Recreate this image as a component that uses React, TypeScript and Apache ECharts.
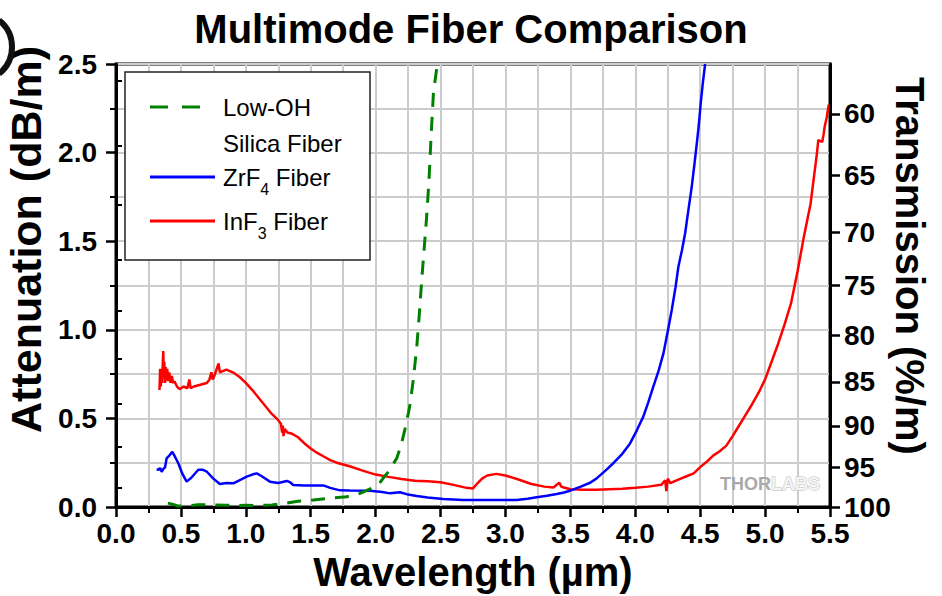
import React, { useEffect, useRef } from "react";
import * as echarts from "echarts";

const FONT = "'Liberation Sans', Arial, Helvetica, sans-serif";

// Axes
const wavelengthMin = 0;
const wavelengthMax = 5.5;
const attenuationMin = 0;
const attenuationMax = 2.5;
const transmissionMajorTicks = [60, 65, 70, 75, 80, 85, 90, 95, 100];
const transmissionMinorTicks = [57.5, 62.5, 67.5, 72.5, 77.5, 82.5, 87.5, 92.5, 97.5];

const titleText = "Multimode Fiber Comparison";
const seriesNames = ["InF3 Fiber", "ZrF4 Fiber", "Low-OH Silica Fiber"];

// [wavelength (µm), attenuation (dB/m)]
const inf3Data: number[][] = [
  [0.335, 0.66], [0.34, 0.78], [0.345, 0.68], [0.35, 0.74], [0.355, 0.7], [0.36, 0.8],
  [0.364, 0.88], [0.368, 0.74], [0.372, 0.82], [0.378, 0.7], [0.383, 0.79], [0.39, 0.72],
  [0.395, 0.78], [0.4, 0.71], [0.41, 0.76], [0.42, 0.7], [0.43, 0.74], [0.44, 0.7],
  [0.45, 0.71], [0.47, 0.68], [0.49, 0.665], [0.52, 0.68], [0.55, 0.67], [0.565, 0.72],
  [0.575, 0.67], [0.6, 0.68], [0.65, 0.69], [0.7, 0.7], [0.72, 0.72], [0.735, 0.76],
  [0.745, 0.72], [0.76, 0.745], [0.79, 0.81], [0.8, 0.76], [0.85, 0.775], [0.9, 0.76],
  [0.95, 0.735], [1.0, 0.7], [1.05, 0.66], [1.1, 0.615], [1.15, 0.57], [1.2, 0.525],
  [1.25, 0.49], [1.27, 0.47], [1.28, 0.42], [1.285, 0.46], [1.29, 0.4], [1.3, 0.44],
  [1.32, 0.42], [1.35, 0.415], [1.4, 0.395], [1.45, 0.36], [1.5, 0.33], [1.55, 0.305],
  [1.6, 0.285], [1.65, 0.265], [1.7, 0.25], [1.8, 0.23], [1.9, 0.205], [2.0, 0.183],
  [2.1, 0.17], [2.2, 0.158], [2.3, 0.148], [2.4, 0.145], [2.5, 0.14], [2.6, 0.125],
  [2.7, 0.108], [2.75, 0.105], [2.78, 0.13], [2.82, 0.16], [2.86, 0.178], [2.93, 0.187],
  [3.0, 0.178], [3.1, 0.155], [3.2, 0.13], [3.3, 0.115], [3.37, 0.11], [3.4, 0.128],
  [3.415, 0.137], [3.43, 0.115], [3.45, 0.11], [3.5, 0.1], [3.6, 0.098], [3.7, 0.097],
  [3.8, 0.1], [3.9, 0.103], [4.0, 0.108], [4.1, 0.115], [4.2, 0.125], [4.23, 0.15],
  [4.24, 0.09], [4.25, 0.16], [4.27, 0.135], [4.3, 0.145], [4.35, 0.16], [4.4, 0.175],
  [4.45, 0.19], [4.5, 0.225], [4.55, 0.255], [4.6, 0.29], [4.65, 0.315], [4.7, 0.345],
  [4.75, 0.4], [4.8, 0.46], [4.85, 0.52], [4.9, 0.58], [4.95, 0.645], [5.0, 0.72],
  [5.05, 0.82], [5.1, 0.92], [5.15, 1.03], [5.2, 1.15], [5.25, 1.33], [5.3, 1.53],
  [5.35, 1.71], [5.4, 2.0], [5.41, 2.07], [5.44, 2.06], [5.45, 2.1], [5.46, 2.15],
  [5.475, 2.2], [5.49, 2.27],
];

const zrf4Data: number[][] = [
  [0.313, 0.213], [0.33, 0.21], [0.34, 0.22], [0.352, 0.199], [0.365, 0.215], [0.378, 0.224],
  [0.39, 0.275], [0.41, 0.29], [0.434, 0.312], [0.45, 0.29], [0.48, 0.247], [0.51, 0.19],
  [0.544, 0.143], [0.58, 0.165], [0.634, 0.21], [0.67, 0.21], [0.7, 0.199], [0.75, 0.16],
  [0.8, 0.13], [0.85, 0.135], [0.904, 0.134], [0.95, 0.15], [1.007, 0.171], [1.05, 0.183],
  [1.084, 0.19], [1.12, 0.175], [1.186, 0.143], [1.25, 0.135], [1.315, 0.147], [1.34, 0.14],
  [1.366, 0.124], [1.45, 0.122], [1.597, 0.122], [1.65, 0.108], [1.726, 0.094], [1.8, 0.093],
  [1.957, 0.092], [2.05, 0.085], [2.111, 0.077], [2.188, 0.083], [2.25, 0.07], [2.317, 0.062],
  [2.4, 0.054], [2.521, 0.045], [2.676, 0.04], [2.8, 0.04], [3.0, 0.04], [3.087, 0.04],
  [3.17, 0.047], [3.24, 0.055], [3.32, 0.063], [3.395, 0.073], [3.45, 0.082], [3.498, 0.092],
  [3.58, 0.115], [3.652, 0.137], [3.7, 0.16], [3.77, 0.205], [3.831, 0.247], [3.9, 0.3],
  [3.96, 0.359], [4.01, 0.43], [4.062, 0.51], [4.1, 0.59], [4.139, 0.679], [4.18, 0.77],
  [4.217, 0.867], [4.25, 0.99], [4.281, 1.112], [4.31, 1.24], [4.332, 1.356], [4.36, 1.45],
  [4.384, 1.545], [4.41, 1.68], [4.435, 1.808], [4.455, 1.93], [4.474, 2.052], [4.49, 2.16],
  [4.504, 2.278], [4.52, 2.39], [4.538, 2.5],
];

const silicaData: number[][] = [
  [0.4, 0.022], [0.44, 0.015], [0.48, 0.005], [0.55, 0.005], [0.62, 0.012], [0.7, 0.013],
  [0.74, 0.012], [0.85, 0.01], [0.95, 0.008], [1.0, 0.01], [1.1, 0.008], [1.2, 0.012],
  [1.3, 0.02], [1.4, 0.032], [1.52, 0.04], [1.65, 0.05], [1.777, 0.058], [1.88, 0.077],
  [1.98, 0.11], [2.03, 0.134], [2.06, 0.165], [2.1, 0.2], [2.137, 0.245], [2.163, 0.275],
  [2.2, 0.36], [2.226, 0.44], [2.252, 0.529], [2.265, 0.58], [2.29, 0.717], [2.317, 0.905],
  [2.337, 1.093], [2.355, 1.281], [2.373, 1.45], [2.393, 1.638], [2.411, 1.845], [2.427, 2.09],
  [2.445, 2.335], [2.475, 2.5],
];

const toAttenuation = (t: number) => Math.max(0, -10 * Math.log10(t / 100));
const toTransmission = (a: number) => 100 * Math.pow(10, -a / 10);

export default function App() {
  const ref = useRef<HTMLDivElement>(null);

  useEffect(() => {
    if (!ref.current) return;
    const chart = echarts.init(ref.current, undefined, { renderer: "svg" });
    const gridColor = "#cccccc";
    const axisCommon = {
      axisLine: { show: true, onZero: false, lineStyle: { color: "#000", width: 3 } },
      axisTick: { show: true, length: 10, lineStyle: { color: "#000", width: 2.5 } },
      minorTick: { show: true, splitNumber: 2, length: 6, lineStyle: { color: "#000", width: 2 } },
      splitLine: { show: true, lineStyle: { color: gridColor, width: 2 } },
      minorSplitLine: { show: true, lineStyle: { color: gridColor, width: 2 } },
    };
    const majorA = transmissionMajorTicks.map(toAttenuation);
    const minorA = transmissionMinorTicks.map(toAttenuation);

    const option: any = {
      animation: false,
      backgroundColor: "#fff",
      textStyle: { fontFamily: FONT },
      title: {
        text: titleText,
        left: "center",
        top: 9,
        padding: 0,
        textStyle: { fontFamily: FONT, fontSize: 40, fontWeight: "bold", color: "#000" },
      },
      grid: {
        left: 116,
        right: 112,
        top: 64,
        bottom: 89,
        show: true,
        borderColor: "#000",
        borderWidth: 3,
        backgroundColor: "transparent",
        containLabel: false,
        outerBoundsMode: "none",
      },
      xAxis: [
        {
          type: "value",
          min: wavelengthMin,
          max: wavelengthMax,
          interval: 0.5,
          position: "bottom",
          ...axisCommon,
          axisLabel: {
            fontFamily: FONT,
            fontSize: 28,
            fontWeight: "bold",
            color: "#000",
            margin: 12,
            formatter: (v: number) => v.toFixed(1),
          },
          name: "Wavelength (µm)",
          nameLocation: "middle",
          nameGap: 42,
          nameTextStyle: { fontFamily: FONT, fontSize: 40, fontWeight: "bold", color: "#000" },
        },
      ],
      yAxis: [
        {
          type: "value",
          min: attenuationMin,
          max: attenuationMax,
          interval: 0.5,
          position: "left",
          ...axisCommon,
          axisLabel: {
            fontFamily: FONT,
            fontSize: 28,
            fontWeight: "bold",
            color: "#000",
            margin: 19,
            formatter: (v: number) => v.toFixed(1),
          },
          name: "Attenuation (dB/m)",
          nameLocation: "middle",
          nameGap: 64,
          nameTextStyle: {
            fontFamily: FONT,
            fontSize: 43,
            fontWeight: "bold",
            color: "#000",
            padding: [0, 0, 0, 92],
          },
        },
        {
          type: "value",
          min: attenuationMin,
          max: attenuationMax,
          position: "right",
          axisLine: { show: true, onZero: false, lineStyle: { color: "#000", width: 3 } },
          axisTick: { show: true, length: 10, customValues: majorA, lineStyle: { color: "#000", width: 2.5 } },
          splitLine: { show: false },
          axisLabel: {
            show: true,
            customValues: majorA,
            fontFamily: FONT,
            fontSize: 28,
            fontWeight: "bold",
            color: "#000",
            margin: 14,
            formatter: (v: number) => String(Math.round(toTransmission(v))),
          },
          name: "Transmission (%/m)",
          nameLocation: "middle",
          nameRotate: -90,
          nameGap: 60,
          nameMoveOverlap: false,
          nameTextStyle: {
            fontFamily: FONT,
            fontSize: 40,
            fontWeight: "bold",
            color: "#000",
            padding: [0, 39, 0, 0],
          },
        },
        {
          type: "value",
          min: attenuationMin,
          max: attenuationMax,
          position: "right",
          axisLine: { show: false },
          axisTick: { show: true, length: 6, customValues: minorA, lineStyle: { color: "#000", width: 2 } },
          axisLabel: { show: false },
          splitLine: { show: false },
        },
      ],
      series: [
        {
          name: seriesNames[0],
          type: "line",
          data: inf3Data,
          showSymbol: false,
          symbol: "none",
          lineStyle: { color: "#ff0000", width: 2.5 },
          itemStyle: { color: "#ff0000" },
        },
        {
          name: seriesNames[1],
          type: "line",
          data: zrf4Data,
          showSymbol: false,
          symbol: "none",
          lineStyle: { color: "#0000ff", width: 2.5 },
          itemStyle: { color: "#0000ff" },
        },
        {
          name: seriesNames[2],
          type: "line",
          data: silicaData,
          showSymbol: false,
          symbol: "none",
          lineStyle: { color: "#008000", width: 3, type: [14, 10] },
          itemStyle: { color: "#008000" },
        },
      ],
      graphic: [
        {
          type: "arc",
          shape: { cx: -22, cy: 47, r: 34, startAngle: -0.9, endAngle: 0.9 },
          style: { stroke: "#111", lineWidth: 6, fill: "none" },
          z: 100,
        },
        {
          type: "group",
          z: 100,
          children: [
            {
              type: "rect",
              shape: { x: 125, y: 72, width: 245, height: 188 },
              style: { fill: "#fff", stroke: "#222", lineWidth: 1.5 },
              z: 100,
            },
            {
              type: "line",
              shape: { x1: 150, y1: 107, x2: 210, y2: 107 },
              style: { stroke: "#008000", lineWidth: 3, lineDash: [18, 14] },
              z: 101,
            },
            {
              type: "text",
              x: 223,
              y: 107,
              style: { text: "Low-OH", fontFamily: FONT, fontSize: 24, fill: "#000", verticalAlign: "middle" },
              z: 101,
            },
            {
              type: "text",
              x: 223,
              y: 143,
              style: { text: "Silica Fiber", fontFamily: FONT, fontSize: 24, fill: "#000", verticalAlign: "middle" },
              z: 101,
            },
            {
              type: "line",
              shape: { x1: 150, y1: 177, x2: 215, y2: 177 },
              style: { stroke: "#0000ff", lineWidth: 3 },
              z: 101,
            },
            {
              type: "text",
              x: 223,
              y: 177,
              style: {
                text: "{n|ZrF}{s|4}{n| Fiber}",
                fontFamily: FONT,
                verticalAlign: "middle",
                rich: {
                  n: { fontFamily: FONT, fontSize: 24, lineHeight: 40, fill: "#000" },
                  s: { fontFamily: FONT, fontSize: 16, lineHeight: 16, fill: "#000", verticalAlign: "bottom" },
                },
              },
              z: 101,
            },
            {
              type: "line",
              shape: { x1: 150, y1: 221, x2: 215, y2: 221 },
              style: { stroke: "#ff0000", lineWidth: 3 },
              z: 101,
            },
            {
              type: "text",
              x: 223,
              y: 221,
              style: {
                text: "{n|InF}{s|3}{n| Fiber}",
                fontFamily: FONT,
                verticalAlign: "middle",
                rich: {
                  n: { fontFamily: FONT, fontSize: 24, lineHeight: 40, fill: "#000" },
                  s: { fontFamily: FONT, fontSize: 16, lineHeight: 16, fill: "#000", verticalAlign: "bottom" },
                },
              },
              z: 101,
            },
          ],
        },
        {
          type: "text",
          x: 770,
          y: 484,
          z: 100,
          style: {
            text: "{a|THOR}{b|LABS}",
            align: "center",
            verticalAlign: "middle",
            rich: {
              a: { fontFamily: FONT, fontSize: 18, fontWeight: "bold", fill: "#a9a9a9" },
              b: {
                fontFamily: FONT,
                fontSize: 18,
                fontWeight: "bold",
                fill: "#f4f4f4",
                stroke: "#bdbdbd",
                lineWidth: 1,
              },
            },
          },
        },
      ],
    };

    chart.setOption(option);
    return () => {
      chart.dispose();
    };
  }, []);

  return (
    <div
      ref={ref}
      style={{ position: "fixed", left: 0, top: 0, width: 942, height: 596, background: "#fff" }}
    />
  );
}
